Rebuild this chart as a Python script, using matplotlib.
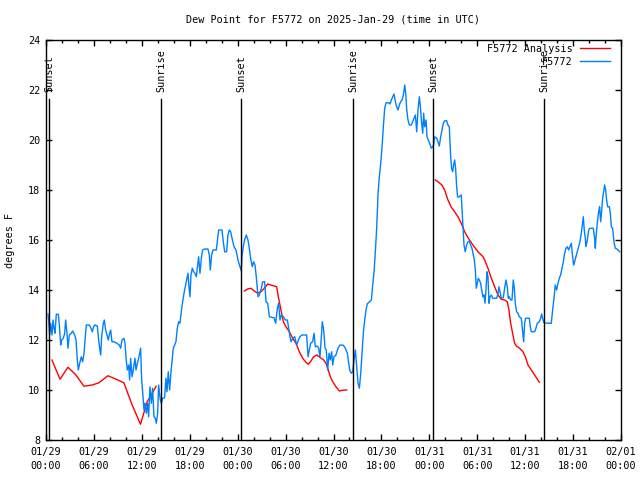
import matplotlib
matplotlib.use('Agg')
import matplotlib.pyplot as plt
import numpy as np
from matplotlib.ticker import MultipleLocator

# hours since 2025-01-29 00:00 UTC
obs_hours = [
    0.25, 0.33, 0.46, 0.58, 0.75, 0.88, 1.0, 1.13, 1.29, 1.54, 1.67, 1.84, 1.96, 2.17, 2.34, 2.46,
    2.63, 2.75, 2.92, 3.17, 3.34, 3.59, 3.76, 3.92, 4.05, 4.22, 4.42, 4.59, 4.76, 4.92, 5.05, 5.43,
    5.59, 5.8, 5.93, 6.09, 6.43, 6.55, 6.72, 6.85, 6.97, 7.18, 7.3, 7.47, 7.64, 7.8, 7.97, 8.1,
    8.26, 8.51, 8.85, 9.18, 9.35, 9.51, 9.76, 9.89, 10.01, 10.18, 10.35, 10.47, 10.6, 10.77, 10.93,
    11.14, 11.27, 11.44, 11.6, 11.73, 11.85, 11.98, 12.15, 12.27, 12.4, 12.56, 12.73, 12.85, 13.02,
    13.19, 13.35, 13.52, 13.69, 13.81, 13.98, 14.1,
    14.31, 14.44, 14.6, 14.85, 15.02, 15.15, 15.31, 15.48, 15.65, 15.77, 15.94, 16.11, 16.27, 16.44,
    16.61, 16.77, 16.94, 17.11, 17.28, 17.44, 17.61, 17.78, 17.9, 18.03, 18.15, 18.32, 18.49, 18.65,
    18.82, 18.99, 19.11, 19.28, 19.45, 19.61, 19.86, 20.28, 20.45, 20.57, 20.74, 20.91, 21.32, 21.45,
    21.62, 22.03, 22.2, 22.37, 22.62, 22.78, 22.95,
    23.12, 23.29, 23.54, 23.79, 24.04, 24.29, 24.45, 24.54, 24.7, 24.87, 25.08, 25.29, 25.46, 25.62,
    25.83, 26.0, 26.17, 26.33, 26.55, 26.71, 26.96, 27.13, 27.38, 27.55, 27.76, 27.97, 28.22, 28.55,
    28.76, 28.97, 29.13, 29.3, 29.47, 29.72, 29.97, 30.22, 30.39, 30.55, 30.68, 30.89, 31.14, 31.39,
    31.6, 31.8, 32.05, 32.64, 32.81, 32.97, 33.14, 33.39, 33.56, 33.72, 33.97, 34.14, 34.31, 34.48,
    34.6, 34.77, 34.94, 35.1, 35.27, 35.44, 35.6, 35.77, 35.9, 36.06, 36.31, 36.56, 36.81, 37.23,
    37.48, 37.73,
    38.03, 38.24, 38.4, 38.57, 38.74, 38.91, 39.07, 39.24, 39.41, 39.57, 39.74, 39.91, 40.07, 40.24,
    40.74, 40.91, 41.08, 41.24, 41.41, 41.58, 41.74, 41.91, 42.08, 42.24, 42.41, 42.58, 42.91, 43.08,
    43.25, 43.41, 43.58, 43.75, 43.91, 44.08, 44.25, 44.41, 44.58, 44.75, 44.92, 45.04, 45.17, 45.33,
    45.5, 45.75, 45.92, 46.08, 46.25, 46.42, 46.58, 46.75, 46.88, 47.0, 47.17, 47.29, 47.42, 47.59,
    47.71,
    47.83, 48.04, 48.25, 48.5, 48.66, 48.92, 49.08, 49.25, 49.42, 49.58, 49.75, 49.92, 50.17, 50.33,
    50.5, 50.58, 50.67, 50.79, 50.92, 51.04, 51.17, 51.29, 51.42, 51.54, 51.67, 51.84, 52.0, 52.17,
    52.25, 52.34, 52.5, 52.67, 52.84, 53.0, 53.17, 53.34, 53.46, 53.63, 53.76, 53.88, 54.01, 54.13,
    54.26, 54.42, 54.59, 54.72, 54.84, 54.97, 55.09, 55.22, 55.34, 55.47, 55.59, 55.76, 55.93, 56.43,
    56.6, 56.72, 56.85, 57.01, 57.26, 57.43, 57.6, 57.76, 57.89, 58.01, 58.18, 58.35, 58.51, 58.64,
    58.76, 58.93, 59.1, 59.27, 59.52, 59.68, 59.81, 59.93, 60.06, 60.52, 60.64, 60.77, 61.19, 61.35,
    61.52, 61.77, 61.94, 62.06, 62.19, 62.35, 62.85, 63.27, 63.44, 63.61, 63.77, 63.94, 64.11, 64.27,
    64.44, 64.61, 64.78, 64.94, 65.11, 65.28, 65.44, 65.61, 65.78, 65.94, 66.07, 66.19, 66.36, 66.53,
    66.7, 66.86, 67.03, 67.15, 67.28, 67.4, 67.53, 67.61, 67.78, 67.95, 68.11, 68.53, 68.7, 68.78,
    68.91, 69.03, 69.2, 69.32, 69.45, 69.57, 69.7, 69.83, 69.95, 70.08, 70.2, 70.33, 70.54, 70.66,
    70.79, 70.95, 71.12, 71.29, 71.54, 71.83,
]
obs_dewpt = [
    13.04, 12.8, 12.2, 12.67, 12.2, 12.8, 12.47, 12.27, 13.03, 13.03, 12.6, 11.8, 12.0, 12.07, 12.27, 12.8,
    12.27, 11.67, 12.2, 12.27, 12.36, 12.2, 12.0, 11.2, 10.8, 11.07, 11.33, 11.13, 11.47, 12.13, 12.6, 12.6,
    12.5, 12.33, 12.5, 12.6, 12.56, 12.13, 11.67, 11.4, 12.13, 12.67, 12.8, 12.4, 12.2, 12.0, 12.27, 12.4,
    11.93, 11.93, 11.87, 11.8, 11.67, 12.0, 12.07, 11.87, 11.33, 10.8, 11.0, 10.4, 11.27, 10.53, 10.8,
    11.27, 10.8, 11.07, 11.27, 11.47, 11.67, 10.4, 9.73, 9.2, 9.47, 9.07, 9.47, 8.93, 10.13,
    9.47, 10.07, 8.93, 8.87, 8.67, 9.07, 10.2,
    9.6, 9.47, 9.67, 9.69, 10.47, 9.93, 10.73, 10.0, 10.73, 11.13, 11.67, 11.8, 11.93, 12.47,
    12.73, 12.67, 13.13, 13.53, 13.87, 14.13, 14.4, 14.67, 14.13, 13.73, 14.6, 14.87, 14.73, 14.67,
    14.53, 15.0, 15.33, 14.67, 15.27, 15.6, 15.64, 15.64, 15.4, 14.8, 15.4, 15.6, 15.6, 15.93,
    16.4, 16.4, 15.93, 15.53, 15.53, 16.2, 16.4,
    16.33, 16.07, 15.73, 15.6, 15.2, 14.93, 14.76, 15.33, 15.73, 16.0, 16.2, 16.0, 15.67, 15.27,
    14.93, 15.13, 15.0, 14.53, 13.73, 13.8, 14.07, 14.33, 14.33, 13.53, 13.47, 12.93, 12.91, 12.89,
    12.67, 13.27, 13.47, 12.8, 13.0, 12.93, 12.8, 12.8, 12.47, 12.13, 11.93, 12.07, 12.13, 11.8,
    12.0, 12.13, 12.2, 12.2, 11.33, 11.6, 11.87, 11.93, 12.27, 11.73, 11.76, 11.67, 11.33, 12.13,
    12.73, 12.4, 11.67, 11.6, 10.8, 11.47, 11.2, 11.53, 11.0, 11.33, 11.4, 11.67, 11.8, 11.79,
    11.67, 11.47,
    10.8, 10.67, 10.73, 11.2, 11.6, 10.93, 10.27, 10.07, 10.67, 11.47, 12.3, 12.8, 13.2, 13.45,
    13.6, 14.2, 14.73, 15.53, 16.5, 17.87, 18.53, 19.07, 19.73, 20.53, 21.27, 21.49, 21.49, 21.44,
    21.6, 21.73, 21.84, 21.53, 21.33, 21.2, 21.4, 21.53, 21.6, 21.8, 22.2, 21.87, 21.2, 20.8,
    20.6, 20.6, 20.73, 20.87, 21.0, 20.33, 21.2, 21.73, 21.33, 20.8, 20.27, 21.07, 20.53, 20.8,
    20.13,
    20.03, 19.87, 19.67, 19.76, 20.13, 20.07, 19.93, 19.76, 20.13, 20.4, 20.67, 20.77, 20.77, 20.6,
    20.53, 20.0, 19.33, 18.87, 18.73, 19.0, 19.2, 18.87, 18.13, 17.73, 17.71, 17.76, 17.8, 16.8,
    16.27, 15.8, 15.53, 15.8, 15.93, 15.96, 15.8, 15.67, 15.47, 15.2, 14.8, 14.07, 14.27, 14.47,
    14.4, 14.27, 13.93, 13.73, 13.8, 13.47, 14.0, 14.73, 14.53, 13.47, 13.73, 13.8, 13.67, 13.67,
    13.87, 14.13, 13.93, 13.67, 13.69, 14.07, 14.4, 14.13, 13.67, 13.73, 13.6, 13.6, 14.4, 14.07,
    13.47, 13.13, 13.07, 12.93, 12.87, 12.33, 11.93, 12.67, 12.87, 12.87, 12.53, 12.33, 12.33, 12.47,
    12.67, 12.73, 12.87, 13.04, 12.87, 12.69, 12.67, 12.67, 13.2, 13.67, 14.2, 14.0, 14.27, 14.47,
    14.6, 14.87, 15.13, 15.47, 15.67, 15.73, 15.6, 15.73, 15.87, 15.33, 15.0, 15.13, 15.33, 15.53,
    15.73, 15.93, 16.27, 16.6, 16.93, 16.4, 16.07, 15.73, 15.99, 16.4, 16.47, 16.47, 16.07, 15.67,
    16.27, 16.67, 17.13, 17.33, 16.73, 17.13, 17.67, 17.93, 18.2, 18.0, 17.6, 17.33, 17.33, 17.07,
    16.53, 16.47, 15.93, 15.67, 15.63, 15.53,
]

# analysis runs (NaN separates the three runs)
ana_hours = [
    0.75, 1.75, 2.75, 3.75, 4.75, 5.79, 6.63, 7.75, 8.71, 9.75, 10.79, 11.83, 12.67, 13.29, 13.79,
    np.nan,
    24.83, 25.25, 25.67, 26.09, 26.5, 26.92, 27.34, 27.76, 28.17, 28.59, 28.88, 29.13, 29.42, 29.72,
    30.05, 30.47, 30.89, 31.3, 31.72, 32.14, 32.55, 32.85, 33.18, 33.51, 33.93, 34.35, 34.77, 35.06,
    35.35, 35.6, 35.9, 36.31, 36.73, 37.15, 37.65,
    np.nan,
    48.75, 49.08, 49.58, 49.92, 50.33, 50.75, 51.17, 51.59, 52.0, 52.42, 52.84, 53.26, 53.67, 54.09,
    54.72, 54.93, 55.34, 55.76, 56.18, 56.6, 57.01, 57.43, 57.76, 57.97, 58.18, 58.43, 58.68, 58.89,
    59.31, 59.72, 60.02, 60.35, 60.77, 61.19, 61.77,
]
ana_dewpt = [
    11.2, 10.43, 10.91, 10.6, 10.15, 10.2, 10.29, 10.57, 10.44, 10.29, 9.4, 8.63, 9.53, 9.87, 10.15,
    np.nan,
    13.96, 14.04, 14.07, 13.96, 13.87, 13.93, 14.07, 14.24, 14.2, 14.16, 14.13, 13.67, 13.2, 12.73,
    12.53, 12.33, 12.07, 11.87, 11.53, 11.27, 11.11, 11.03, 11.16, 11.33, 11.4, 11.29, 11.2, 11.07,
    10.8, 10.53, 10.33, 10.13, 9.96, 9.99, 10.0,
    np.nan,
    18.4, 18.33, 18.2, 18.0, 17.6, 17.31, 17.13, 16.93, 16.67, 16.33, 16.09, 15.89, 15.71, 15.53,
    15.33, 15.2, 14.87, 14.47, 14.13, 13.8, 13.63, 13.6, 13.53, 13.2, 12.67, 12.27, 11.87, 11.76,
    11.67, 11.53, 11.33, 11.0, 10.8, 10.6, 10.31,
]

sun_hours = [0.41, 14.44, 24.46, 38.48, 48.5, 62.4]
sun_labels = ['Sunset', 'Sunrise', 'Sunset', 'Sunrise', 'Sunset', 'Sunrise']

tick_hours = [0, 6, 12, 18, 24, 30, 36, 42, 48, 54, 60, 66, 72]
tick_labels = ['01/29\n00:00', '01/29\n06:00', '01/29\n12:00', '01/29\n18:00',
               '01/30\n00:00', '01/30\n06:00', '01/30\n12:00', '01/30\n18:00',
               '01/31\n00:00', '01/31\n06:00', '01/31\n12:00', '01/31\n18:00',
               '02/01\n00:00']

plt.rcParams['font.family'] = 'DejaVu Sans Mono'
fs = 7.3

fig = plt.figure(figsize=(6.4, 4.8), dpi=100)
ax = fig.add_axes([46 / 640, 40 / 480, 575 / 640, 400 / 480])

ax.plot(ana_hours, ana_dewpt, color='#ff0000', lw=1, label='F5772 Analysis')
ax.plot(obs_hours, obs_dewpt, color='#0080ff', lw=1, label='F5772')

for h, lab in zip(sun_hours, sun_labels):
    ax.plot([h, h], [8, 21.64], color='black', lw=1)
    ax.text(h, 21.92, lab, rotation=90, ha='center', va='bottom', fontsize=fs)

ax.set_xlim(0, 72)
ax.set_ylim(8, 24)
ax.set_xticks(tick_hours)
ax.set_xticklabels(tick_labels, linespacing=1.45)
ax.xaxis.set_minor_locator(MultipleLocator(2))
ax.set_yticks(range(8, 25, 2))
ax.tick_params(which='major', direction='in', top=True, right=True, length=4, width=1,
               labelsize=fs, pad=4)
ax.tick_params(axis='x', which='major', pad=5)
ax.tick_params(which='minor', direction='in', top=True, length=2, width=1)
for s in ax.spines.values():
    s.set_linewidth(1)

ax.legend(loc='upper right', bbox_to_anchor=(1 - 11 / 575, 1 - 4 / 400), markerfirst=False,
          frameon=False, fontsize=fs, handlelength=3.0, handletextpad=0.7,
          labelspacing=0.25, borderpad=0, borderaxespad=0)

fig.text(333 / 640, 1 - 19 / 480, 'Dew Point for F5772 on 2025-Jan-29 (time in UTC)',
         ha='center', va='center', fontsize=fs)
fig.text(10 / 640, 0.5, 'degrees F', rotation=90, ha='center', va='center', fontsize=fs)

fig.savefig('out.png', dpi=100)
